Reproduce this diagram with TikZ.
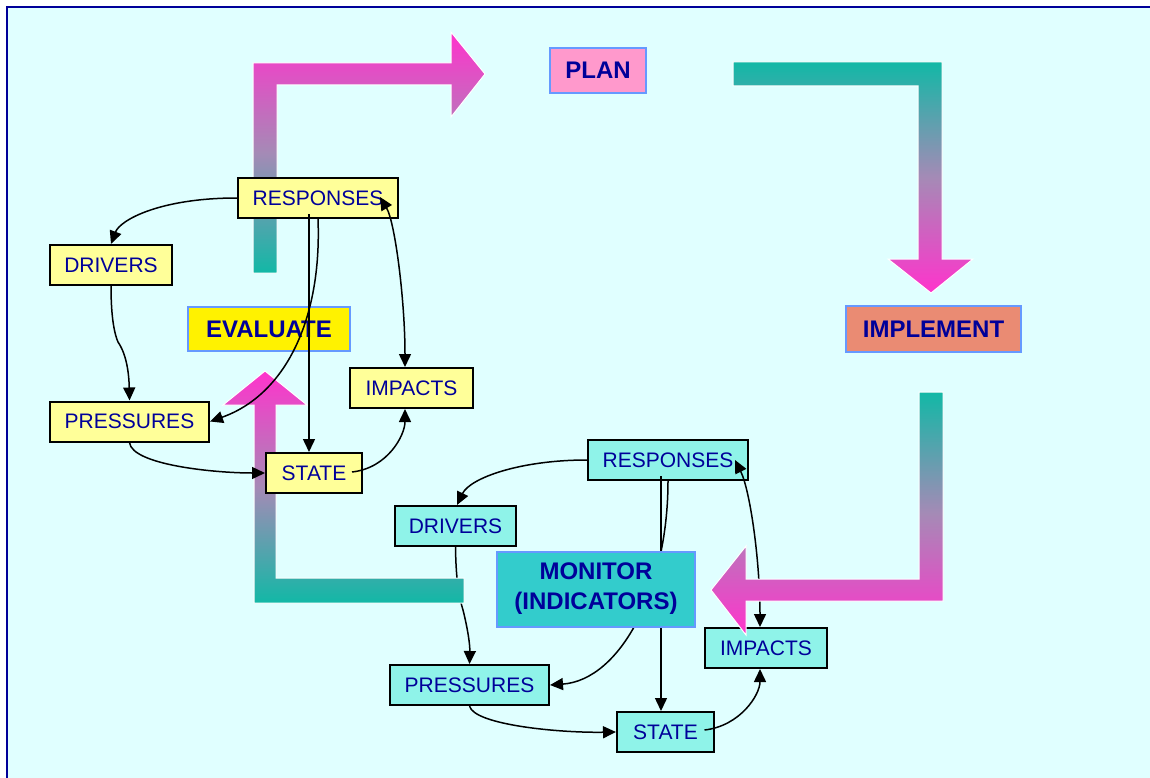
\documentclass[tikz,border=0pt]{standalone}
\usepackage{fontspec}
\setmainfont{Liberation Sans}
\usetikzlibrary{arrows.meta}

\definecolor{bgcyan}{RGB}{224,255,255}
\definecolor{frameblue}{RGB}{0,0,153}
\definecolor{inkblue}{RGB}{0,0,153}
\definecolor{tealA}{RGB}{18,184,166}
\definecolor{pinkA}{RGB}{255,51,204}
\definecolor{midA}{RGB}{165,138,182}
\definecolor{yfill}{RGB}{255,255,153}
\definecolor{cfill}{RGB}{143,243,233}
\definecolor{monfill}{RGB}{51,204,204}
\definecolor{planfill}{RGB}{255,153,204}
\definecolor{implfill}{RGB}{234,139,115}
\definecolor{labeledge}{RGB}{102,153,255}

\tikzset{
  >={Triangle[length=13pt,width=12pt]},
  ybox/.style={draw=black, line width=2pt, fill=yfill, minimum height=40pt,
    inner sep=0pt, text=inkblue, font=\fontsize{21}{25}\selectfont},
  cbox/.style={ybox, fill=cfill},
  labelbox/.style={draw=labeledge, line width=2pt, inner sep=0pt, text=inkblue,
    align=center, font=\fontsize{24}{30}\selectfont\bfseries},
  link/.style={line width=1.5pt, ->},
  biglink/.style={line width=1.5pt, <->},
  bigarrow/.style={draw=white, line width=1pt},
  pinkup/.style={bigarrow, top color=pinkA, bottom color=tealA, middle color=midA},
  pinkdown/.style={bigarrow, top color=tealA, bottom color=pinkA, middle color=midA},
}

\begin{document}
\begin{tikzpicture}[x=1pt, y=-1pt]
\useasboundingbox (0,0) rectangle (1150,778);
\clip (0,0) rectangle (1150,778);

% page background and frame
\fill[white] (0,0) rectangle (1150,778);
\draw[frameblue, line width=2pt, fill=bgcyan] (7,7) rectangle (1165,795);

% ---------- monitoring cycle (cyan) ----------
\node[cbox, minimum width=160pt] (cresp)  at (668,460)   {RESPONSES};
\node[cbox, minimum width=121pt] (cdriv)  at (455.5,526) {DRIVERS};
\node[cbox, minimum width=122pt] (cimp)   at (766,648)   {IMPACTS};
\node[cbox, minimum width=159pt] (cpress) at (469.5,685) {PRESSURES};
\node[cbox, minimum width=97pt]  (cstate) at (665.5,732) {STATE};

\draw[link] (cresp.west) .. controls (520,460) and (470,478) .. ([xshift=1.5pt]cdriv.north);
\draw[link] (cdriv.south) .. controls (456,585) and (460,600) .. (463,610)
            .. controls (468,630) and (470,645) .. (cpress.north);
\draw[link] ([shift={(-7,-5)}]cresp.south) -- ([xshift=-4.5pt]cstate.north);
\draw[link] (cresp.south) .. controls (668,590) and (620,680) .. (cpress.east);
\draw[biglink] ([shift={(67,0)}]cresp.center) .. controls (750,490) and (760,560) .. ([xshift=-6pt]cimp.north);
\draw[link] ([shift={(39,-2)}]cstate.center) .. controls (740,726) and (760,695) .. ([xshift=-6pt]cimp.south);
\draw[link] (cpress.south) .. controls (474,725) and (560,733) .. (cstate.west);

\node[labelbox, fill=monfill, minimum width=198pt, minimum height=75pt] (monitor)
  at (596,589) {MONITOR\\(INDICATORS)};

% ---------- big cycle arrows ----------
% monitor -> evaluate
\shade[pinkup]
  (254,603) -- (464,603) -- (464,578) -- (276,578) -- (276,405) -- (307,405)
  -- (265,371) -- (223,405) -- (254,405) -- cycle;
% implement -> monitor
\shade[pinkdown]
  (919,392) -- (943,392) -- (943,601) -- (746,601) -- (746,635) -- (711,590)
  -- (746,546) -- (746,579) -- (919,579) -- cycle;
% evaluate -> plan
\shade[pinkup]
  (253,273) -- (253,63) -- (451,63) -- (451,32) -- (485,74) -- (451,117)
  -- (451,85) -- (277,85) -- (277,273) -- cycle;
% plan -> implement
\shade[pinkdown]
  (733,62) -- (942,62) -- (942,259) -- (973,259) -- (931,293) -- (888,259)
  -- (918,259) -- (918,86) -- (733,86) -- cycle;

\node[labelbox, fill=planfill, minimum width=96pt, minimum height=45pt] (plan) at (598,70.5) {PLAN};
\node[labelbox, fill=implfill, minimum width=175pt, minimum height=46pt] (impl) at (933.5,329) {IMPLEMENT};
\node[labelbox, fill=yellow, minimum width=162pt, minimum height=44pt] (eval) at (269,329) {EVALUATE};

% ---------- evaluation cycle (yellow) ----------
\node[ybox, minimum width=160pt] (yresp)  at (318,198)   {RESPONSES};
\node[ybox, minimum width=122pt] (ydriv)  at (111,265)   {DRIVERS};
\node[ybox, minimum width=123pt] (yimp)   at (411.5,388) {IMPACTS};
\node[ybox, minimum width=159pt] (ypress) at (129.5,421.5) {PRESSURES};
\node[ybox, minimum width=96pt]  (ystate) at (314,473)   {STATE};

\draw[link] (yresp.west) .. controls (160,198) and (120,220) .. (ydriv.north);
\draw[link] (ydriv.south) .. controls (111,320) and (115,335) .. (118,342)
            .. controls (127,355) and (129,375) .. (ypress.north);
\draw[link] (yresp.south) .. controls (322,320) and (285,395) .. (ypress.east);
\draw[link] ([shift={(-9,-5)}]yresp.south) -- ([xshift=-5pt]ystate.north);
\draw[biglink] ([shift={(62,-1)}]yresp.center) .. controls (395,222) and (405,300) .. ([xshift=-6.5pt]yimp.north);
\draw[link] ([shift={(38,-1)}]ystate.center) .. controls (388,468) and (405,435) .. ([xshift=-6.5pt]yimp.south);
\draw[link] (ypress.south) .. controls (132,465) and (215,473) .. (ystate.west);

\end{tikzpicture}
\end{document}
